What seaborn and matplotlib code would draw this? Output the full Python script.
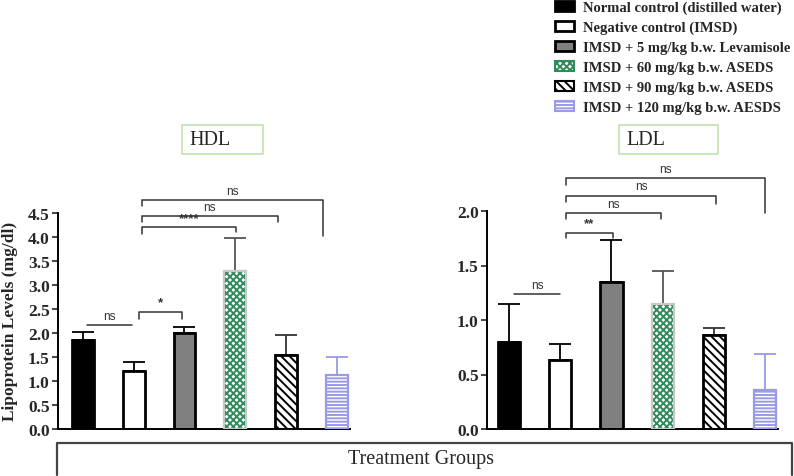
import numpy as np
import matplotlib
matplotlib.use("Agg")
import matplotlib.pyplot as plt
import seaborn as sns
import pandas as pd
from matplotlib.patches import Patch, Rectangle
from matplotlib.lines import Line2D

# Gruppen und Werte
groups = ["Normal control (distilled water)", "Negative control (IMSD)",
          "IMSD + 5 mg/kg b.w. Levamisole", "IMSD + 60 mg/kg b.w. ASEDS",
          "IMSD + 90 mg/kg b.w. ASEDS", "IMSD + 120 mg/kg b.w. AESDS"]
hdl_mean = [1.85, 1.20, 2.00, 3.30, 1.55, 1.13]
hdl_err = [0.18, 0.20, 0.13, 0.67, 0.41, 0.36]
ldl_mean = [0.80, 0.63, 1.35, 1.15, 0.86, 0.36]
ldl_err = [0.35, 0.15, 0.38, 0.30, 0.07, 0.33]

# Signifikanz-Klammern: (x1, x2, y, Abfall links, Abfall rechts, Text)
hdl_sig = [(0.08, 0.96, 2.17, 0, 0, "ns"),
           (1.10, 1.95, 2.44, 0.15, 0.15, "*"),
           (1.16, 3.01, 4.21, 0.15, 0.11, "****"),
           (1.16, 3.84, 4.44, 0.13, 0.13, "ns"),
           (1.16, 4.72, 4.77, 0.12, 0.75, "ns")]
ldl_sig = [(0.10, 1.00, 1.24, 0, 0, "ns"),
           (1.12, 2.02, 1.80, 0.05, 0.05, "**"),
           (1.12, 2.96, 1.98, 0.05, 0.05, "ns"),
           (1.12, 4.04, 2.14, 0.06, 0.08, "ns"),
           (1.12, 5.00, 2.30, 0.06, 0.32, "ns")]

# Stil der Balken
faces = ["black", "white", "#808080", "white", "white", "white"]
edges = ["black", "black", "black", "#c8c8c8", "black", "#9a9ae6"]
hatches = [None, None, None, "xxxxx", "\\\\\\\\", "-----"]
hatch_cols = [None, None, None, "#2f8a5c", "black", "#9a9ae6"]
err_cols = ["black", "black", "black", "#555555", "#333333", "#9a9ae6"]

sns.set_style("ticks")
plt.rcParams["font.family"] = ["Liberation Serif", "DejaVu Serif"]
plt.rcParams["hatch.linewidth"] = 1.4

fig = plt.figure(figsize=(7.94, 4.77), dpi=100)
ax1 = fig.add_axes([58/794, 1-430/477, (350-58)/794, (430-214)/477])
ax2 = fig.add_axes([487/794, 1-430/477, (778-487)/794, (430-212)/477])


def style_bars(ax):
    for i, p in enumerate(ax.patches[:6]):
        p.set_facecolor(faces[i])
        if hatches[i] is None:
            p.set_edgecolor(edges[i])
            p.set_linewidth(2.0)
        else:
            # Schraffur in eigener Farbe, Umriss separat
            p.set_edgecolor(hatch_cols[i])
            p.set_hatch(hatches[i])
            p.set_linewidth(0)
            x0, y0 = p.get_x(), p.get_y()
            ax.add_patch(Rectangle((x0, y0), p.get_width(), p.get_height(),
                                   fill=False, edgecolor=edges[i],
                                   linewidth=2.0 if i == 4 else 1.6, zorder=3))


def draw_panel(ax, means, errs, sig, ymax, yticks):
    df = pd.DataFrame({"group": groups, "value": means})
    sns.barplot(data=df, x="group", y="value", hue="group", order=groups,
                hue_order=groups, width=0.43, errorbar=None, legend=False,
                ax=ax, zorder=2)
    style_bars(ax)
    for i in range(len(groups)):
        ax.errorbar(i, means[i], yerr=[[0], [errs[i]]], fmt="none",
                    ecolor=err_cols[i], elinewidth=1.3, capsize=8,
                    capthick=1.3, zorder=1)
    for x1, x2, y, dl, dr, lab in sig:
        ax.plot([x1, x1, x2, x2], [y - dl, y, y, y - dr], color="#333333",
                lw=1.1, clip_on=False)
        ax.text((x1 + x2) / 2, y + ymax * 0.015, lab, ha="center",
                va="bottom", fontsize=8.5 if lab == "ns" else 9.5,
                family=["Liberation Sans", "DejaVu Sans"], color="#333333",
                fontweight="bold" if "*" in lab else "normal")
    ax.set_ylim(0, ymax)
    ax.set_yticks(yticks)
    ax.set_yticklabels([f"{t:.1f}" for t in yticks], fontsize=12.5,
                       fontweight="bold")
    ax.set_xticks([])
    ax.set_xlabel("")
    ax.set_ylabel("")
    for s in ["top", "right"]:
        ax.spines[s].set_visible(False)
    for s in ["left", "bottom"]:
        ax.spines[s].set_linewidth(1.4)
        ax.spines[s].set_color("black")
    ax.tick_params(axis="y", length=4, width=1.2, pad=2)


draw_panel(ax1, hdl_mean, hdl_err, hdl_sig, 4.5, np.arange(0, 4.51, 0.5))
ax1.set_xlim(-0.49, 5.26)
draw_panel(ax2, ldl_mean, ldl_err, ldl_sig, 2.0, np.arange(0, 2.01, 0.5))
ax2.set_xlim(-0.43, 5.25)

fig.text(10/794, 1-321/477, "Lipoprotein Levels (mg/dl)", rotation=90,
         ha="center", va="center", fontsize=12.5, fontweight="bold")

# Titel-Kästen
for (x0, x1), lab in [((182, 263), "HDL"), ((619, 718), "LDL")]:
    fig.patches.append(Rectangle((x0/794, 1-155/477), (x1-x0)/794, 29/477,
                                 transform=fig.transFigure, fill=False,
                                 edgecolor="#c2e2b2", linewidth=1.2))
    fig.text((x0+7)/794, 1-140.5/477, lab, ha="left", va="center",
             fontsize=14.5)

# Klammer "Treatment Groups"
fig.lines.append(Line2D([57/794, 57/794, 792/794, 792/794],
                        [1-476/477, 1-444/477, 1-444/477, 1-476/477],
                        transform=fig.transFigure, color="#444444", lw=1.6))
fig.text(421/794, 1-460/477, "Treatment Groups", ha="center", va="center",
         fontsize=14.5)

# Legende
handles = []
for i, g in enumerate(groups):
    if hatches[i] is None:
        handles.append(Patch(facecolor=faces[i], edgecolor=edges[i],
                             linewidth=2.0, label=g))
    else:
        handles.append(Patch(facecolor=faces[i], edgecolor=hatch_cols[i],
                             hatch=hatches[i], linewidth=1.5, label=g))
fig.legend(handles=handles, loc="upper left",
           bbox_to_anchor=(548/794, 1.012), frameon=False, borderpad=0,
           handlelength=1.3, handleheight=0.7, handletextpad=0.6,
           labelspacing=0.46, prop={"weight": "bold", "size": 10.5,
                                     "family": "Liberation Serif"})

fig.savefig("out.png", dpi=100)
